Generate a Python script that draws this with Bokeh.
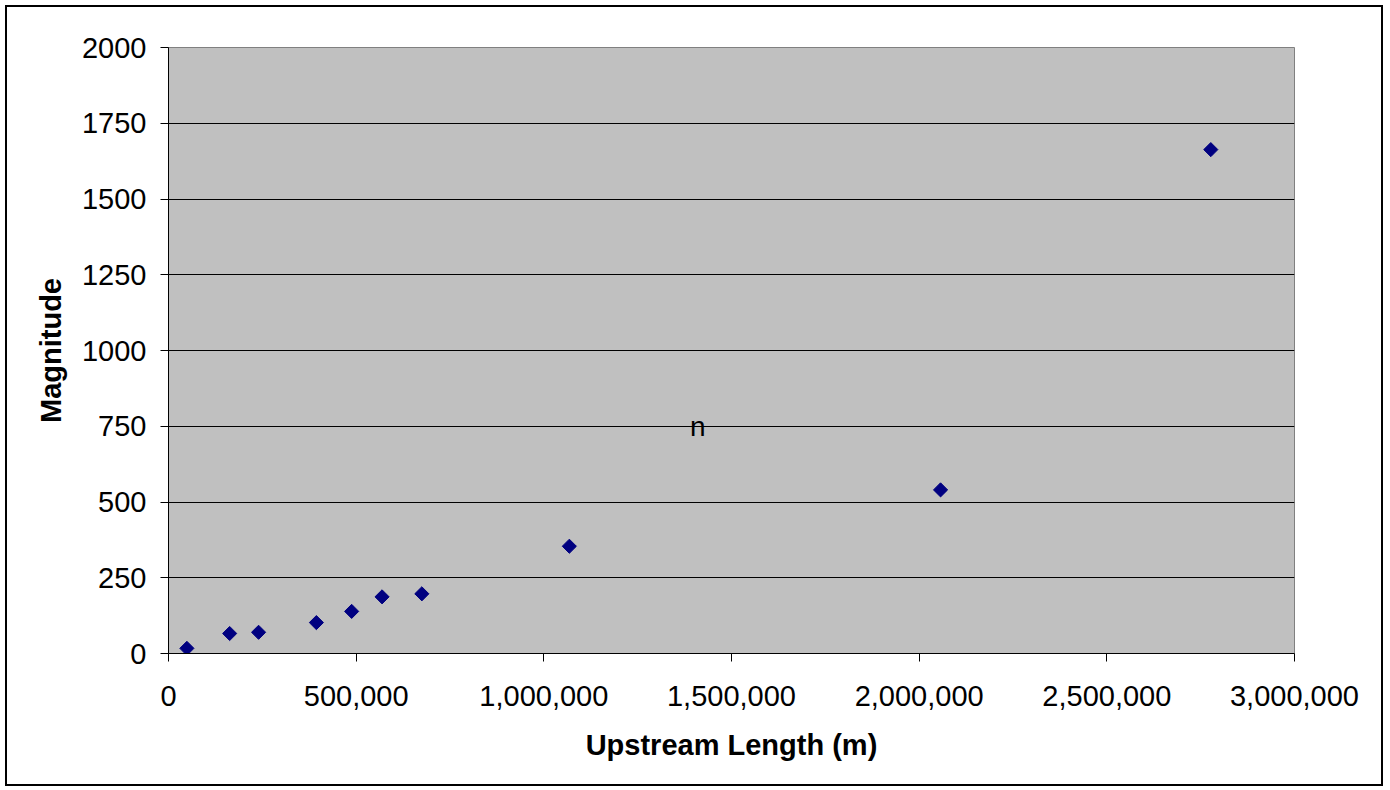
from bokeh.plotting import figure
from bokeh.models import ColumnDataSource, FixedTicker, NumeralTickFormatter, Range1d
from bokeh.core.properties import value
from bokeh.embed import file_html
from bokeh.resources import INLINE
import numpy as np

# Data
upstream_length = [49000, 163000, 240000, 394000, 488000, 569000, 675000, 1068000, 2057000, 2777000]
magnitude = [17, 66, 70, 102, 139, 187, 197, 354, 540, 1663]

label_x = [1410000]
label_y = [750]
label_text = ["n"]

x_ticks = [0, 500000, 1000000, 1500000, 2000000, 2500000, 3000000]
y_ticks = [0, 250, 500, 750, 1000, 1250, 1500, 1750, 2000]

FONT = "Liberation Sans"

p = figure(
    frame_width=1126, frame_height=606,
    min_border_left=161, min_border_top=40, min_border_right=87, min_border_bottom=131,
    x_range=Range1d(0, 3000000), y_range=Range1d(0, 2000),
    output_backend="svg", toolbar_location=None,
    background_fill_color="#C0C0C0", border_fill_color="white",
)
p.styles = {"border": "2px solid black", "margin-left": "5px", "margin-top": "5px"}
p.outline_line_color = "#808080"
p.outline_line_width = 1

# grid
p.xgrid.visible = False
p.ygrid.grid_line_color = "black"
p.ygrid.grid_line_width = 1
p.ygrid.ticker = FixedTicker(ticks=y_ticks)

# axes
p.xaxis.ticker = FixedTicker(ticks=x_ticks)
p.yaxis.ticker = FixedTicker(ticks=y_ticks)
p.xaxis.formatter = NumeralTickFormatter(format="0,0")
for ax in (p.xaxis[0], p.yaxis[0]):
    ax.axis_line_color = "black"
    ax.axis_line_width = 1
    ax.major_tick_line_color = "black"
    ax.major_tick_out = 8
    ax.major_tick_in = 0
    ax.minor_tick_line_color = None
    ax.major_label_text_font = FONT
    ax.major_label_text_font_size = "29px"
    ax.major_label_text_color = "black"
    ax.axis_label_text_font = FONT
    ax.axis_label_text_font_size = "29px"
    ax.axis_label_text_font_style = "bold"
    ax.axis_label_text_color = "black"

p.xaxis.axis_label = "Upstream Length (m)"
p.yaxis.axis_label = "Magnitude"
p.xaxis.major_label_standoff = 24
p.yaxis.major_label_standoff = 14
p.xaxis.axis_label_standoff = 20
p.yaxis.axis_label_standoff = 12

src = ColumnDataSource(dict(x=upstream_length, y=magnitude))
p.scatter("x", "y", source=src, marker="square", size=10, angle=np.pi / 4,
          fill_color="#000080", line_color="#000080")

lsrc = ColumnDataSource(dict(x=label_x, y=label_y, t=label_text))
p.text("x", "y", text="t", source=lsrc, text_font=value(FONT), text_font_size="28px",
       text_align="center", text_baseline="middle", text_color="black")

open("out.html", "w").write(file_html(p, INLINE))
